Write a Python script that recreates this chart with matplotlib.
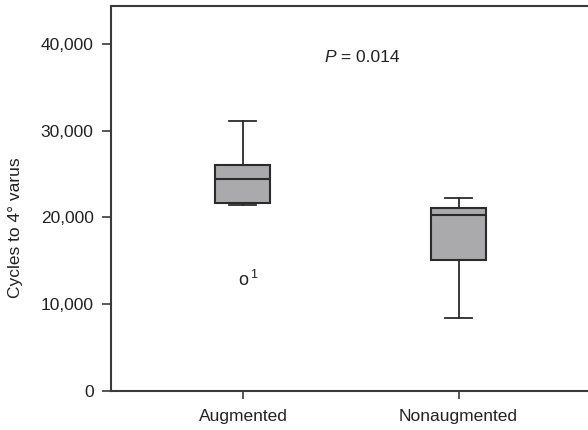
import matplotlib
matplotlib.use("Agg")
import matplotlib.pyplot as plt
from matplotlib.ticker import FuncFormatter

plt.rcParams['font.family'] = ['Liberation Sans', 'DejaVu Sans']

categories = ["Augmented", "Nonaugmented"]
whisker_low = [21450, 8400]
q1 = [21700, 15130]
median = [24470, 20250]
q3 = [26020, 21060]
whisker_high = [31120, 22250]
outlier_values = [12700]
outlier_labels = ["1"]
p_text = "0.014"
y_ticks = [0, 10000, 20000, 30000, 40000]

fig = plt.figure(figsize=(5.88, 4.30), dpi=100)
ax = fig.add_axes([111/588, 39/430, 1 - 111/588, (391 - 6)/430])

stats = []
for i, c in enumerate(categories):
    stats.append(dict(label=c, whislo=whisker_low[i], q1=q1[i], med=median[i],
                      q3=q3[i], whishi=whisker_high[i], fliers=[]))

edge = "#2b2b2b"
ax.bxp(stats, positions=[1, 2], widths=0.255, capwidths=0.125, patch_artist=True,
       showfliers=False,
       boxprops=dict(facecolor="#aaaaac", edgecolor=edge, linewidth=1.5),
       medianprops=dict(color=edge, linewidth=1.5),
       whiskerprops=dict(color=edge, linewidth=1.3),
       capprops=dict(color=edge, linewidth=1.3))

# outlier drawn as "o" with case number superscript
for v, lab in zip(outlier_values, outlier_labels):
    ax.text(1, v, "o", ha="center", va="center", fontsize=13, color="#222222")
    ax.text(1.035, v + 700, lab, ha="left", va="center", fontsize=9, color="#222222")

ax.text(1.38, 38400, "P", fontstyle="italic", ha="left", va="center",
        fontsize=12.5, color="#222222")
ax.text(1.43, 38400, " = " + p_text, ha="left", va="center",
        fontsize=12.5, color="#222222")

ax.set_xlim(0.388, 2.6)
ax.set_ylim(0, 44380)
ax.set_yticks(y_ticks)
ax.yaxis.set_major_formatter(FuncFormatter(lambda v, p: f"{int(v):,}"))
ax.set_xticks([1, 2])
ax.set_xticklabels(categories)

for s in ["left", "top", "bottom"]:
    ax.spines[s].set_color("#3a3a3a")
    ax.spines[s].set_linewidth(1.5)
ax.spines["right"].set_visible(False)

ax.tick_params(axis="y", length=6.5, width=1.2, color="#3a3a3a", pad=6,
               labelsize=12.5, labelcolor="#222222")
ax.tick_params(axis="x", length=6, width=1.2, color="#3a3a3a", pad=7,
               labelsize=12.5, labelcolor="#222222")

ax.set_ylabel("Cycles to 4° varus", fontsize=12.5, color="#222222")
ax.yaxis.set_label_coords(-0.185, 0.425)

fig.savefig("out.png", dpi=100)
